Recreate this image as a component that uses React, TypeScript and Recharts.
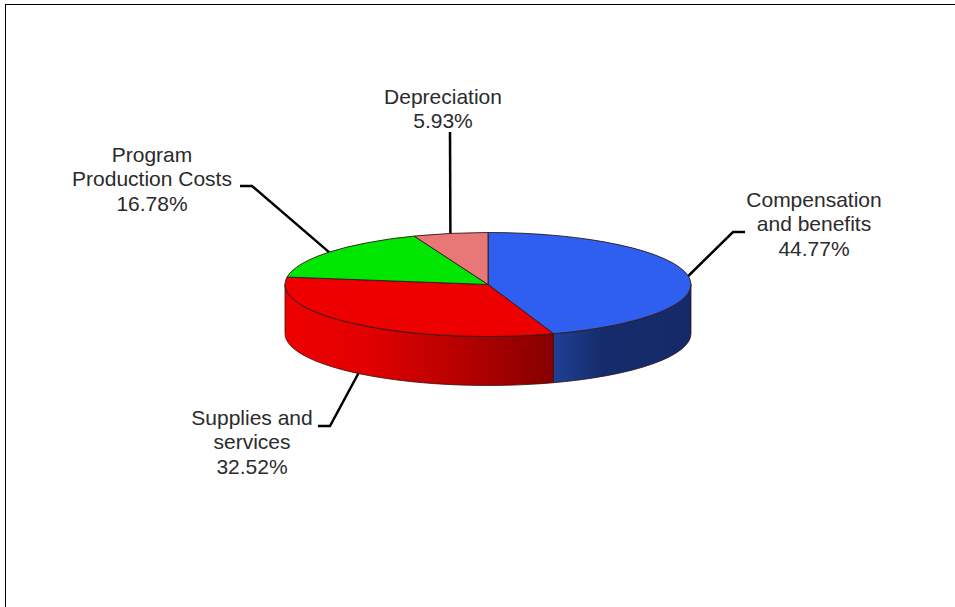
import React from 'react';
import { PieChart, Pie, Cell } from 'recharts';

const categories = ['Compensation and benefits', 'Supplies and services', 'Program Production Costs', 'Depreciation'];
const shares = [44.77, 32.52, 16.78, 5.93];
const topColors = ['#2f5ff0', '#ee0000', '#00e600', '#e87878'];
const sideFills = ['url(#blueSide)', 'url(#redSide)', '#00a000', '#a05050'];
const labelRows = [
  ['Compensation', 'and benefits'],
  ['Supplies and', 'services'],
  ['Program', 'Production Costs'],
  ['Depreciation'],
];

// leader line bends and text anchors, in chart pixels
const elbows = [[733, 232], [330, 426], [252, 186], [450, 132]];
const leaderEnds = [[745, 232], [318, 426], [240, 186], [450, 132]];
const textAnchors = [[814, 207], [252, 425], [152, 162], [443, 104]];

const WIDTH = 955;
const HEIGHT = 607;
const SQUASH = 52 / 203; // pie is a flattened ellipse
const DEPTH = 49;
const RAD = Math.PI / 180;

const chartData = categories.map((name, i) => ({ name, value: shares[i], side: sideFills[i] }));

const Slice3D = (props: any) => {
  const { cx, cy, outerRadius: r, startAngle, endAngle, fill, payload } = props;
  const ry = r * SQUASH;
  const px = (a: number) => cx + r * Math.cos(a * RAD);
  const py = (a: number) => cy - ry * Math.sin(a * RAD);
  const large = Math.abs(startAngle - endAngle) > 180 ? 1 : 0;
  const top = `M${cx},${cy} L${px(startAngle)},${py(startAngle)} A${r},${ry} 0 ${large} 1 ${px(endAngle)},${py(endAngle)} Z`;

  // only the part of the rim facing the viewer gets a wall
  const hi = Math.min(startAngle, 0);
  const lo = Math.max(endAngle, -180);
  let wall = null;
  if (hi > lo) {
    const d = `M${px(hi)},${py(hi)} L${px(hi)},${py(hi) + DEPTH} A${r},${ry} 0 0 1 ${px(lo)},${py(lo) + DEPTH} L${px(lo)},${py(lo)} A${r},${ry} 0 0 0 ${px(hi)},${py(hi)} Z`;
    wall = <path d={d} fill={payload?.side ?? props.side} stroke="#3a1010" strokeWidth={0.8} />;
  }
  return (
    <g>
      {wall}
      <path d={top} fill={fill} stroke="#301818" strokeWidth={0.9} strokeLinejoin="round" />
    </g>
  );
};

const renderLabel = (props: any) => {
  const { cx, cy, midAngle, outerRadius: r, index, value } = props;
  const sin = Math.sin(midAngle * RAD);
  const x0 = cx + r * Math.cos(midAngle * RAD);
  const y0 = cy - r * SQUASH * sin + (sin < 0 ? DEPTH : 0);
  const [ex, ey] = elbows[index];
  const [lx, ly] = leaderEnds[index];
  const [tx, ty] = textAnchors[index];
  const rows = [...labelRows[index], `${value.toFixed(2)}%`];
  return (
    <g key={`label-${index}`}>
      <polyline points={`${x0},${y0} ${ex},${ey} ${lx},${ly}`} fill="none" stroke="#000" strokeWidth={2.5} />
      <text x={tx} y={ty} textAnchor="middle" fontFamily="Liberation Sans, Arial, sans-serif" fontSize={21} fill="#2b2b2b">
        {rows.map((row, i) => (
          <tspan key={row} x={tx} dy={i === 0 ? 0 : 24.4}>{row}</tspan>
        ))}
      </text>
    </g>
  );
};

export default function App() {
  return (
    <div style={{ position: 'absolute', left: 0, top: 0, width: WIDTH, height: HEIGHT, background: '#fff', overflow: 'hidden' }}>
      <div style={{ position: 'absolute', left: 5, top: 4, width: WIDTH, height: HEIGHT, borderLeft: '1.5px solid #000', borderTop: '1.5px solid #000' }} />
      <PieChart width={WIDTH} height={HEIGHT} margin={{ top: 0, right: 0, bottom: 0, left: 0 }}>
        <defs>
          <linearGradient id="redSide" x1="0" y1="0" x2="1" y2="0">
            <stop offset="0" stopColor="#ee0000" />
            <stop offset="0.3" stopColor="#e20000" />
            <stop offset="0.7" stopColor="#b00000" />
            <stop offset="1" stopColor="#850000" />
          </linearGradient>
          <linearGradient id="blueSide" x1="0" y1="0" x2="1" y2="0">
            <stop offset="0" stopColor="#1f4096" />
            <stop offset="0.35" stopColor="#152c6c" />
            <stop offset="1" stopColor="#142a68" />
          </linearGradient>
        </defs>
        <Pie
          data={chartData}
          dataKey="value"
          nameKey="name"
          cx={488}
          cy={284.5}
          outerRadius={203}
          startAngle={90}
          endAngle={-270}
          paddingAngle={0}
          shape={Slice3D}
          label={renderLabel}
          labelLine={false}
          isAnimationActive={false}
        >
          {chartData.map((entry, index) => (
            <Cell key={`cell-${index}`} fill={topColors[index]} />
          ))}
        </Pie>
      </PieChart>
    </div>
  );
}
